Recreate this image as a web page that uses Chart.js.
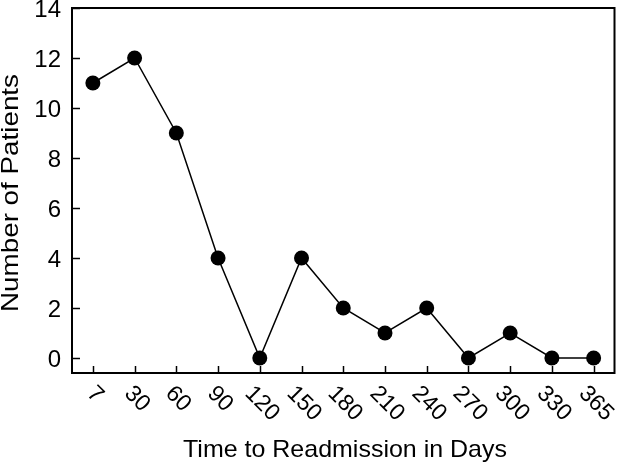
<!DOCTYPE html>
<html>
<head>
<meta charset="utf-8">
<script src="https://cdn.jsdelivr.net/npm/chart.js@4/dist/chart.umd.min.js"></script>
<style>
html,body{margin:0;padding:0;background:#fff;}
#wrap{width:622px;height:465px;position:relative;}
</style>
</head>
<body>
<div id="wrap"><canvas id="c" width="622" height="465"></canvas></div>
<script>
const categories = ['7','30','60','90','120','150','180','210','240','270','300','330','365'];
const patients = [11,12,9,4,0,4,2,1,2,0,1,0,0];
const yTicks = [0,2,4,6,8,10,12,14];
const xTitle = 'Time to Readmission in Days';
const yTitle = 'Number of Patients';

const FONT = '"Liberation Sans", Arial, sans-serif';

function stretchedText(ctx, text, x, y, targetWidth) {
  const w = ctx.measureText(text).width;
  const s = targetWidth / w;
  ctx.save();
  ctx.translate(x, y);
  ctx.scale(s, 1);
  ctx.fillText(text, 0, 0);
  ctx.restore();
}

const framePlugin = {
  id: 'frame',
  afterDraw(chart) {
    const ctx = chart.ctx;
    const a = chart.chartArea;
    const xs = chart.scales.x, ys = chart.scales.y;
    ctx.save();
    ctx.strokeStyle = '#000';
    ctx.fillStyle = '#000';
    ctx.lineWidth = 2;
    ctx.strokeRect(a.left, a.top, a.right - a.left, a.bottom - a.top);
    // y ticks inward
    ctx.lineWidth = 1.5;
    ctx.font = '24px ' + FONT;
    ctx.textAlign = 'right';
    ctx.textBaseline = 'middle';
    yTicks.forEach(v => {
      const y = Math.round(ys.getPixelForValue(v)) + 0.5;
      ctx.beginPath();
      ctx.moveTo(a.left, y);
      ctx.lineTo(a.left + 8, y);
      ctx.stroke();
      ctx.fillText(String(v), a.left - 11, y + 2);
    });
    // x ticks inward + rotated labels
    ctx.font = '23px ' + FONT;
    categories.forEach((c, i) => {
      const x = Math.round(xs.getPixelForTick(i)) + 0.5;
      ctx.beginPath();
      ctx.moveTo(x, a.bottom);
      ctx.lineTo(x, a.bottom - 7);
      ctx.stroke();
      const m = ctx.measureText(c);
      const h = m.actualBoundingBoxAscent + m.actualBoundingBoxDescent;
      const half = (m.width + h) / (2 * Math.SQRT2);
      ctx.save();
      ctx.translate(x - 1.5, 387 + half);
      ctx.rotate(Math.PI / 4);
      ctx.textAlign = 'center';
      ctx.textBaseline = 'alphabetic';
      ctx.fillText(c, 0, h / 2 - m.actualBoundingBoxDescent);
      ctx.restore();
    });
    // titles
    ctx.font = '24px ' + FONT;
    ctx.textAlign = 'center';
    ctx.textBaseline = 'alphabetic';
    stretchedText(ctx, xTitle, 345, 457, 324);
    ctx.save();
    ctx.translate(18, 193);
    ctx.rotate(-Math.PI / 2);
    stretchedText(ctx, yTitle, 0, 0, 238);
    ctx.restore();
    ctx.restore();
  }
};

new Chart(document.getElementById('c'), {
  type: 'line',
  data: {
    labels: categories,
    datasets: [{
      data: patients,
      borderColor: '#000',
      backgroundColor: '#000',
      borderWidth: 1.5,
      pointRadius: 7.5,
      pointHoverRadius: 7.5,
      pointBackgroundColor: '#000',
      pointBorderColor: '#000',
      pointBorderWidth: 0,
      tension: 0,
      clip: false
    }]
  },
  options: {
    responsive: false,
    animation: false,
    devicePixelRatio: 1,
    layout: { padding: { left: 72, top: 8, right: 2, bottom: 92 } },
    plugins: { legend: { display: false }, tooltip: { enabled: false } },
    scales: {
      x: { type: 'category', offset: true, display: false },
      y: { type: 'linear', min: -0.6, max: 14, display: false }
    }
  },
  plugins: [framePlugin]
});
</script>
</body>
</html>
